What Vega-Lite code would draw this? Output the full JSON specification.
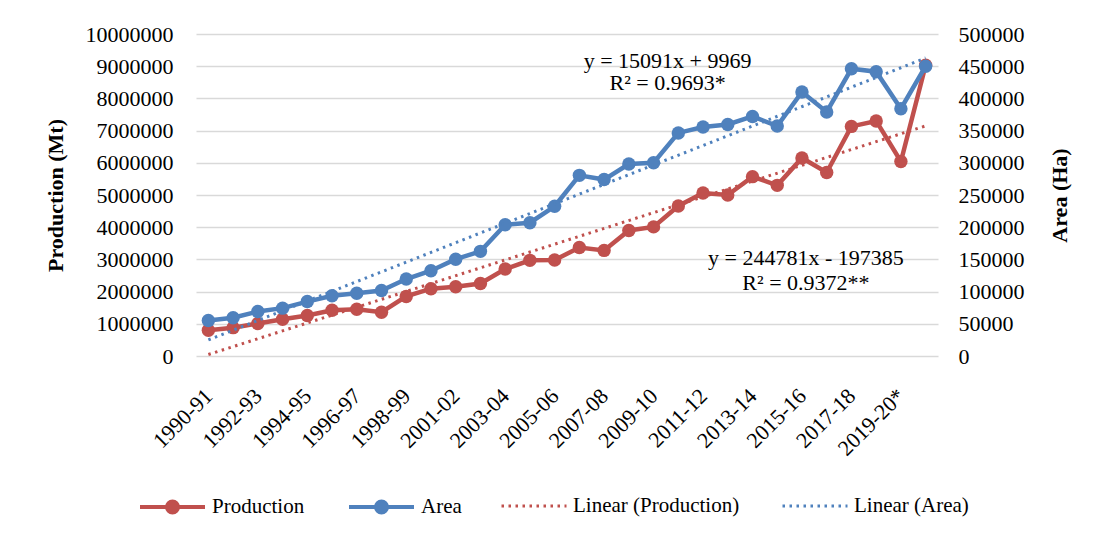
{
  "$schema": "https://vega.github.io/schema/vega-lite/v6.json",
  "width": 742,
  "height": 322,
  "autosize": {"type": "none"},
  "padding": {"left": 196, "top": 34, "right": 157, "bottom": 179},
  "background": "white",
  "config": {
    "font": "Liberation Serif",
    "view": {"stroke": null},
    "axis": {
      "labelFont": "Liberation Serif",
      "labelFontSize": 22,
      "labelColor": "black",
      "labelOverlap": false,
      "titleFont": "Liberation Serif",
      "titleFontSize": 22,
      "titleColor": "black",
      "titleFontWeight": "bold",
      "domain": false,
      "ticks": false,
      "tickSize": 0,
      "grid": false,
      "gridColor": "#d9d9d9",
      "gridWidth": 1.5
    },
    "legend": {
      "orient": "none",
      "direction": "horizontal",
      "columns": 2,
      "columnPadding": 36,
      "padding": 0,
      "symbolSize": 4225,
      "labelFont": "Liberation Serif",
      "labelFontSize": 21,
      "labelColor": "black",
      "labelOffset": 5,
      "labelLimit": 400
    }
  },
  "datasets": {
    "main": [
      {"year": "1990-91", "Production": 800000, "Area": 55000},
      {"year": "1991-92", "Production": 880000, "Area": 59500},
      {"year": "1992-93", "Production": 1010000, "Area": 69000},
      {"year": "1993-94", "Production": 1140000, "Area": 74300},
      {"year": "1994-95", "Production": 1260000, "Area": 84500},
      {"year": "1995-96", "Production": 1420000, "Area": 93500},
      {"year": "1996-97", "Production": 1450000, "Area": 97500},
      {"year": "1997-98", "Production": 1360000, "Area": 101700},
      {"year": "1998-99", "Production": 1850000, "Area": 119500},
      {"year": "2000-01", "Production": 2090000, "Area": 132500},
      {"year": "2001-02", "Production": 2150000, "Area": 150300},
      {"year": "2002-03", "Production": 2250000, "Area": 162500},
      {"year": "2003-04", "Production": 2700000, "Area": 203700},
      {"year": "2004-05", "Production": 2970000, "Area": 207000},
      {"year": "2005-06", "Production": 2980000, "Area": 232500},
      {"year": "2006-07", "Production": 3370000, "Area": 280500},
      {"year": "2007-08", "Production": 3280000, "Area": 274000},
      {"year": "2008-09", "Production": 3900000, "Area": 298100},
      {"year": "2009-10", "Production": 4010000, "Area": 300000},
      {"year": "2010-11", "Production": 4660000, "Area": 346400},
      {"year": "2011-12", "Production": 5060000, "Area": 355600},
      {"year": "2012-13", "Production": 5000000, "Area": 359500},
      {"year": "2013-14", "Production": 5570000, "Area": 372000},
      {"year": "2014-15", "Production": 5300000, "Area": 357100},
      {"year": "2015-16", "Production": 6150000, "Area": 410000},
      {"year": "2016-17", "Production": 5700000, "Area": 379000},
      {"year": "2017-18", "Production": 7130000, "Area": 446000},
      {"year": "2018-19", "Production": 7300000, "Area": 441500},
      {"year": "2019-20*", "Production": 6040000, "Area": 384000},
      {"year": "2020-21*", "Production": 9030000, "Area": 450000}
    ],
    "trend": [
      {"year": "1990-91", "ptrend": 47000, "atrend": 25000},
      {"year": "2020-21*", "ptrend": 7146000, "atrend": 462700}
    ],
    "notes": [
      {"year": "2009-10", "value": 9160000, "label": "y = 15091x + 9969", "grp": "a"},
      {"year": "2009-10", "value": 8480000, "label": "R² = 0.9693*", "grp": "a"},
      {"year": "2015-16", "value": 3040000, "label": "y = 244781x - 197385", "grp": "p"},
      {"year": "2015-16", "value": 2270000, "label": "R² = 0.9372**", "grp": "p"}
    ]
  },
  "encoding": {
    "x": {
      "field": "year",
      "type": "ordinal",
      "title": null,
      "scale": {
        "type": "point",
        "padding": 0.5,
        "domain": ["1990-91","1991-92","1992-93","1993-94","1994-95","1995-96","1996-97","1997-98","1998-99","2000-01","2001-02","2002-03","2003-04","2004-05","2005-06","2006-07","2007-08","2008-09","2009-10","2010-11","2011-12","2012-13","2013-14","2014-15","2015-16","2016-17","2017-18","2018-19","2019-20*","2020-21*"]
      },
      "axis": {
        "values": ["1990-91","1992-93","1994-95","1996-97","1998-99","2001-02","2003-04","2005-06","2007-08","2009-10","2011-12","2013-14","2015-16","2017-18","2019-20*"],
        "labelAngle": -45,
        "labelAlign": "right",
        "labelBaseline": "middle",
        "labelPadding": 36,
        "grid": false
      }
    }
  },
  "layer": [
    {
      "layer": [
        {
          "data": {"name": "main"},
          "mark": {"type": "line", "strokeWidth": 4.5},
          "encoding": {
            "y": {
              "field": "Production",
              "type": "quantitative",
              "title": "Production (Mt)",
              "scale": {"domain": [0, 10000000], "nice": false, "zero": true},
              "axis": {"values": [0,1000000,2000000,3000000,4000000,5000000,6000000,7000000,8000000,9000000,10000000], "format": "d", "grid": true, "labelOverlap": false, "labelPadding": 23, "titleBaseline": "alphabetic", "titleX": -134}
            },
            "color": {
              "datum": "Production",
              "type": "nominal",
              "scale": {"domain": ["Production", "Area"], "range": ["#C0504D", "#4F81BD"]},
              "legend": {
                "title": null,
                "legendX": -58,
                "legendY": 438,
                "symbolType": "M-1,0L1,0M-0.17,0A0.17,0.17 0 1,1 0.17,0A0.17,0.17 0 1,1 -0.17,0M-0.09,0A0.09,0.09 0 1,1 0.09,0A0.09,0.09 0 1,1 -0.09,0M-0.03,0A0.03,0.03 0 1,1 0.03,0A0.03,0.03 0 1,1 -0.03,0",
                "symbolStrokeWidth": 4
              }
            }
          }
        },
        {
          "data": {"name": "main"},
          "mark": {"type": "point", "filled": true, "size": 180, "opacity": 1},
          "encoding": {
            "y": {
              "field": "Production", "type": "quantitative", "title": "Production (Mt)",
              "axis": {"values": [0,1000000,2000000,3000000,4000000,5000000,6000000,7000000,8000000,9000000,10000000], "format": "d", "grid": true, "labelOverlap": false, "labelPadding": 23, "titleBaseline": "alphabetic", "titleX": -134}
            },
            "color": {"datum": "Production", "type": "nominal"}
          }
        },
        {
          "data": {"name": "trend"},
          "mark": {"type": "line", "strokeWidth": 3, "strokeDash": [2.5, 4.5]},
          "encoding": {
            "y": {
              "field": "ptrend", "type": "quantitative", "title": "Production (Mt)",
              "axis": {"values": [0,1000000,2000000,3000000,4000000,5000000,6000000,7000000,8000000,9000000,10000000], "format": "d", "grid": true, "labelOverlap": false, "labelPadding": 23, "titleBaseline": "alphabetic", "titleX": -134}
            },
            "stroke": {
              "datum": "Linear (Production)",
              "type": "nominal",
              "scale": {"domain": ["Linear (Production)", "Linear (Area)"], "range": ["#C0504D", "#4F81BD"]},
              "legend": {
                "title": null,
                "legendX": 304,
                "legendY": 438,
                "symbolType": "M-1,0L1,0",
                "symbolDash": [2.5, 4.5],
                "symbolStrokeWidth": 3
              }
            }
          }
        },
        {
          "data": {"name": "notes"},
          "transform": [{"filter": "datum.grp == 'a'"}],
          "mark": {"type": "text", "font": "Liberation Serif", "fontSize": 22, "color": "black", "align": "center", "baseline": "middle", "dx": 14},
          "encoding": {
            "y": {
              "field": "value", "type": "quantitative", "title": "Production (Mt)",
              "axis": {"values": [0,1000000,2000000,3000000,4000000,5000000,6000000,7000000,8000000,9000000,10000000], "format": "d", "grid": true, "labelOverlap": false, "labelPadding": 23, "titleBaseline": "alphabetic", "titleX": -134}
            },
            "text": {"field": "label"}
          }
        },
        {
          "data": {"name": "notes"},
          "transform": [{"filter": "datum.grp == 'p'"}],
          "mark": {"type": "text", "font": "Liberation Serif", "fontSize": 22, "color": "black", "align": "center", "baseline": "middle", "dx": 4},
          "encoding": {
            "y": {
              "field": "value", "type": "quantitative", "title": "Production (Mt)",
              "axis": {"values": [0,1000000,2000000,3000000,4000000,5000000,6000000,7000000,8000000,9000000,10000000], "format": "d", "grid": true, "labelOverlap": false, "labelPadding": 23, "titleBaseline": "alphabetic", "titleX": -134}
            },
            "text": {"field": "label"}
          }
        }
      ]
    },
    {
      "layer": [
        {
          "data": {"name": "main"},
          "mark": {"type": "line", "strokeWidth": 4.5},
          "encoding": {
            "y": {
              "field": "Area",
              "type": "quantitative",
              "title": "Area (Ha)",
              "scale": {"domain": [0, 500000], "nice": false, "zero": true},
              "axis": {"orient": "right", "values": [0,50000,100000,150000,200000,250000,300000,350000,400000,450000,500000], "format": "d", "grid": false, "labelOverlap": false, "labelPadding": 20, "titleAngle": -90, "titleBaseline": "alphabetic", "titleX": 128}
            },
            "color": {"datum": "Area", "type": "nominal"}
          }
        },
        {
          "data": {"name": "main"},
          "mark": {"type": "point", "filled": true, "size": 180, "opacity": 1},
          "encoding": {
            "y": {
              "field": "Area", "type": "quantitative", "title": "Area (Ha)",
              "axis": {"orient": "right", "values": [0,50000,100000,150000,200000,250000,300000,350000,400000,450000,500000], "format": "d", "grid": false, "labelOverlap": false, "labelPadding": 20, "titleAngle": -90, "titleBaseline": "alphabetic", "titleX": 128}
            },
            "color": {"datum": "Area", "type": "nominal"}
          }
        },
        {
          "data": {"name": "trend"},
          "mark": {"type": "line", "strokeWidth": 3, "strokeDash": [2.5, 4.5]},
          "encoding": {
            "y": {
              "field": "atrend", "type": "quantitative", "title": "Area (Ha)",
              "axis": {"orient": "right", "values": [0,50000,100000,150000,200000,250000,300000,350000,400000,450000,500000], "format": "d", "grid": false, "labelOverlap": false, "labelPadding": 20, "titleAngle": -90, "titleBaseline": "alphabetic", "titleX": 128}
            },
            "stroke": {"datum": "Linear (Area)", "type": "nominal"}
          }
        }
      ]
    }
  ],
  "resolve": {"scale": {"y": "independent"}}
}
